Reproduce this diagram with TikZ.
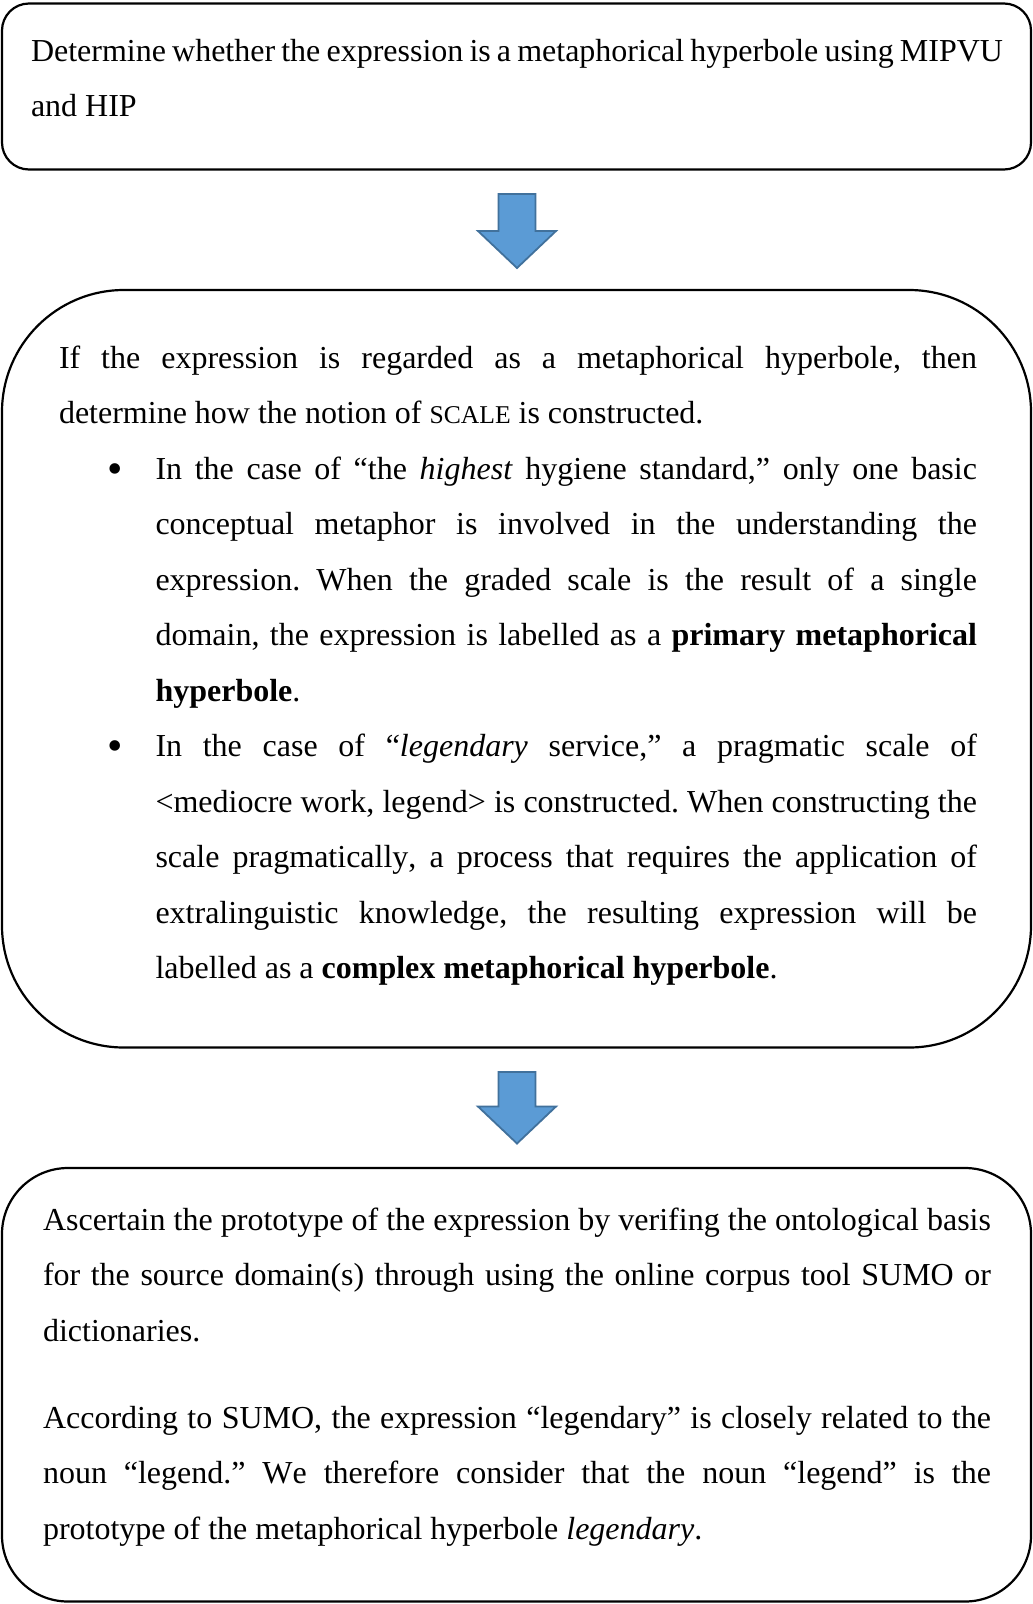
\documentclass[tikz,border=0pt]{standalone}
\usepackage{fontspec}
\setmainfont{Liberation Serif}[Kerning=Off]
\usetikzlibrary{calc}
\frenchspacing

\definecolor{arrowfill}{HTML}{5B9BD5}
\definecolor{arrowline}{HTML}{41719C}

% body text: 32pt on 55.5pt lines, justified without hyphenation
\newcommand\bodyset{\fontsize{32}{55.5}\selectfont\frenchspacing\tolerance=10000\hyphenpenalty=10000\exhyphenpenalty=10000}
\newcommand\smallcapset{\fontsize{25.6}{55.5}\selectfont}

% downward block arrow from the middle of its top edge (#1) to its tip (#2)
\newcommand\blockarrow[2]{%
  \path[blockarrow] let \p1=(#1), \p2=(#2) in
    (\x1-18.5pt,\y1) -- (\x1+18.5pt,\y1) -- (\x1+18.5pt,\y2+37pt)
    -- (\x1+39pt,\y2+37pt) -- (\x2,\y2) -- (\x1-39pt,\y2+37pt)
    -- (\x1-18.5pt,\y2+37pt) -- cycle;}

\begin{document}
\begin{tikzpicture}[x=1pt,y=-1pt,
  frame/.style={draw=black, fill=white, line width=2.2pt, rounded corners=#1,
    inner sep=0pt, outer sep=0pt},
  para/.style={anchor=base west, inner sep=0pt, outer sep=0pt,
    text width=#1, align=justify, font=\bodyset},
  bulletmark/.style={anchor=base, inner sep=0pt, font=\fontsize{44}{44}\selectfont},
  blockarrow/.style={fill=arrowfill, draw=arrowline, line width=1.8pt, line join=miter}]

\fill[white] (0,0) rectangle (1033,1604);
\useasboundingbox (0,0) rectangle (1033,1604);

% the three stages
\node[frame=27pt, minimum width=1029pt, minimum height=166pt] (b1) at (516.5,86.5) {};
\node[frame=122pt, minimum width=1029pt, minimum height=757.5pt] (b2) at (516.5,668.75) {};
\node[frame=66pt, minimum width=1029pt, minimum height=433.5pt] (b3) at (516.5,1384.75) {};

% stage 1
\node[para=972pt] (t1) at (31,61)
  {Determine whether the expression is a metaphorical hyperbole using MIPVU\linebreak
   and HIP};

% stage 2
\node[para=918pt] (t2) at (59,368)
  {If the expression is regarded as a metaphorical hyperbole, then\linebreak
   determine how the notion of {\smallcapset SCALE} is constructed.};
\node[bulletmark] (m1) at (115.5,483) {•};
\node[para=821.5pt] (t2a) at (155.5,479)
  {In the case of “the \emph{highest} hygiene standard,” only one basic\linebreak
   conceptual metaphor is involved in the understanding the\linebreak
   expression. When the graded scale is the result of a single\linebreak
   domain, the expression is labelled as a \textbf{primary metaphorical}\linebreak
   \textbf{hyperbole}.};
\node[bulletmark] (m2) at (115.5,760.5) {•};
\node[para=821.5pt] (t2b) at (155.5,756.5)
  {In the case of “\emph{legendary} service,” a pragmatic scale of\linebreak
   <mediocre work, legend> is constructed. When constructing the\linebreak
   scale pragmatically, a process that requires the application of\linebreak
   extralinguistic knowledge, the resulting expression will be\linebreak
   labelled as a \textbf{complex metaphorical hyperbole}.};

% stage 3
\node[para=948pt] (t3a) at (43,1230)
  {Ascertain the prototype of the expression by verifing the ontological basis\linebreak
   for the source domain(s) through using the online corpus tool SUMO or\linebreak
   dictionaries.};
\node[para=948pt] (t3b) at (43,1428)
  {According to SUMO, the expression “legendary” is closely related to the\linebreak
   noun “legend.” We therefore consider that the noun “legend” is the\linebreak
   prototype of the metaphorical hyperbole \emph{legendary}.};

% arrows between the stages
\coordinate (a1s) at ($(b1.south)+(0.5,24.5)$);
\coordinate (a1t) at ($(b2.north)+(0.5,-22)$);
\coordinate (a2s) at ($(b2.south)+(0.5,24.5)$);
\coordinate (a2t) at ($(b3.north)+(0.5,-24.5)$);
\blockarrow{a1s}{a1t}
\blockarrow{a2s}{a2t}
\end{tikzpicture}
\end{document}
